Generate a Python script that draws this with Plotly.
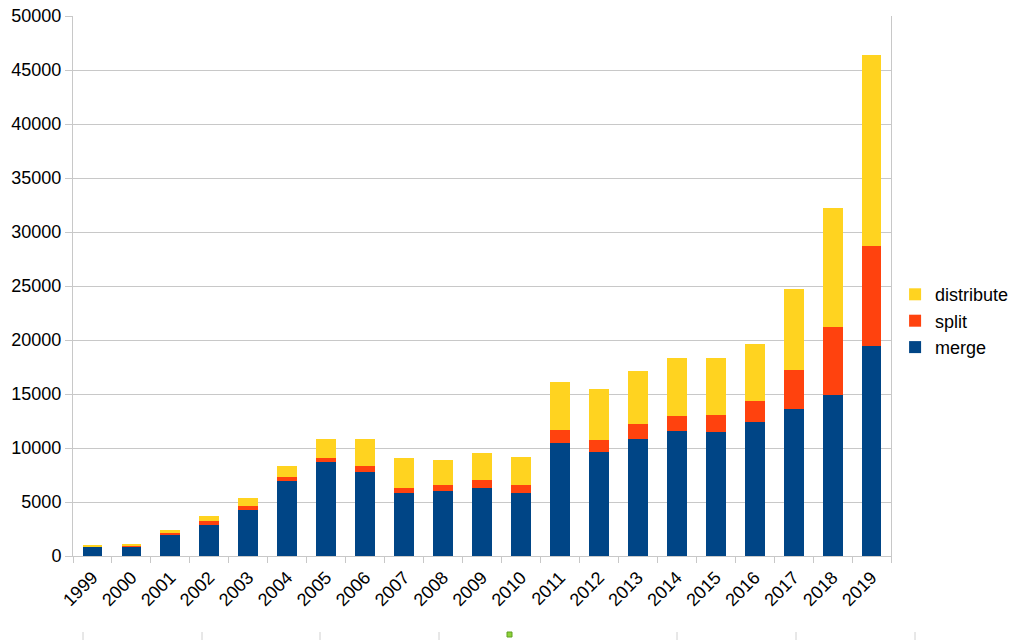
import plotly.graph_objects as go

years = [str(y) for y in range(1999, 2020)]
merge = [860, 900, 1960, 2890, 4290, 6960, 8670, 7780, 5790, 6030, 6280, 5820,
         10420, 9620, 10880, 11580, 11520, 12410, 13570, 14920, 19490]
split = [40, 50, 150, 360, 330, 330, 370, 580, 520, 520, 740, 730,
         1250, 1100, 1310, 1380, 1530, 1960, 3650, 6250, 9190]
distribute = [80, 150, 310, 490, 740, 1040, 1780, 2460, 2790, 2370, 2510, 2640,
              4410, 4730, 4910, 5420, 5330, 5300, 7470, 11030, 17740]

FONT = "Liberation Sans, Arial, sans-serif"
GRID = "#c8c8c8"

# the page body has an 8px margin, so the figure is placed at (8, 8)
OFF = 8
L, T, R, B = 73 - OFF, 8, 133, 84
W, H = 1024 - OFF, 640 - OFF
PW, PH = W - L - R, H - T - B

fig = go.Figure()
fig.add_trace(go.Bar(name="merge", x=years, y=merge, marker_color="#004586",
                     marker_line_width=0))
fig.add_trace(go.Bar(name="split", x=years, y=split, marker_color="#ff420e",
                     marker_line_width=0))
fig.add_trace(go.Bar(name="distribute", x=years, y=distribute, marker_color="#ffd320",
                     marker_line_width=0))

fig.update_layout(
    barmode="stack",
    bargap=0.49,
    width=W, height=H,
    margin=dict(l=L, r=R, t=T, b=B, pad=0, autoexpand=False),
    paper_bgcolor="white", plot_bgcolor="white",
    font=dict(family=FONT, size=18, color="#000000"),
    showlegend=True,
    legend=dict(traceorder="reversed", x=1.005, xanchor="left", y=0.435, yanchor="middle",
                font=dict(family=FONT, size=18, color="#000000"),
                bgcolor="rgba(0,0,0,0)", itemwidth=30, tracegroupgap=0),
    xaxis=dict(type="category", tickangle=-45, showgrid=False, automargin=False,
               showline=True, linecolor=GRID, linewidth=1, mirror=False,
               ticks="outside", tickson="boundaries", ticklen=6, tickcolor=GRID,
               ticklabelstandoff=3,
               tickfont=dict(family=FONT, size=18, color="#000000")),
    yaxis=dict(range=[0, 50000], dtick=5000, tickformat="d", automargin=False,
               ticklabeloverflow="allow",
               showgrid=True, gridcolor=GRID, gridwidth=1,
               showline=True, linecolor=GRID, linewidth=1, mirror=True,
               ticks="outside", ticklen=7, tickcolor=GRID, zeroline=False,
               tickfont=dict(family=FONT, size=18, color="#000000")),
)


def px_x(p):
    return (p - OFF - L) / PW


def px_y(p):
    return (H - B - (p - OFF)) / PH


# selection handle and ruler marks (decorative)
shapes = [dict(type="rect", xref="paper", yref="paper",
               x0=px_x(507), x1=px_x(512), y0=px_y(637), y1=px_y(632),
               fillcolor="#8fd33a", line=dict(color="#5fa020", width=1))]
for p in (83, 202, 320, 439, 677, 796, 915):
    shapes.append(dict(type="line", xref="paper", yref="paper",
                       x0=px_x(p), x1=px_x(p), y0=px_y(640), y1=px_y(632),
                       line=dict(color="#d0d0d0", width=1)))
fig.update_layout(shapes=shapes)

fig.write_html("out.html")
